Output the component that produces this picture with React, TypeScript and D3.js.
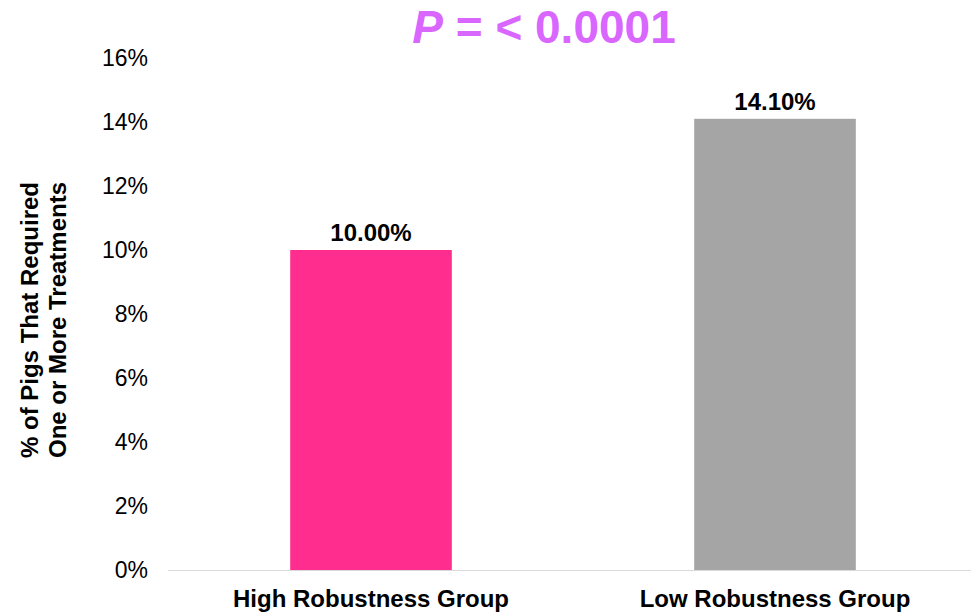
import { useEffect, useRef } from 'react'
import * as d3 from 'd3'

const groups = ['High Robustness Group', 'Low Robustness Group']
const values = [10.0, 14.1]
const barColors = ['#ff2d8d', '#a5a5a5']
const yTicks = [0, 2, 4, 6, 8, 10, 12, 14, 16]

const W = 971
const H = 613
const font = '"Liberation Sans", Arial, sans-serif'

export default function App() {
	const ref = useRef<SVGSVGElement>(null)

	useEffect(() => {
		const svg = d3.select(ref.current)
		svg.selectAll('*').remove()

		const x = d3.scaleBand().domain(groups).range([169, 977]).paddingInner(0.6).paddingOuter(0.3)
		const y = d3.scaleLinear().domain([0, 16]).range([570, 58])

		// title
		const title = svg.append('text')
			.attr('x', 544).attr('y', 43)
			.attr('text-anchor', 'middle')
			.attr('font-family', font).attr('font-weight', 'bold').attr('font-size', 46)
			.attr('fill', '#d966ff')
		title.append('tspan').attr('font-style', 'italic').text('P')
		title.append('tspan').text(' = < 0.0001')

		// y ticks (no gridlines)
		svg.append('g')
			.selectAll('text')
			.data(yTicks)
			.join('text')
			.attr('x', 148).attr('y', d => y(d))
			.attr('dy', '0.35em')
			.attr('text-anchor', 'end')
			.attr('font-family', font).attr('font-size', 23)
			.attr('fill', '#000')
			.text(d => `${d}%`)

		// bars
		svg.append('g')
			.selectAll('rect')
			.data(values)
			.join('rect')
			.attr('x', (d, i) => x(groups[i]) as number)
			.attr('width', x.bandwidth())
			.attr('y', d => y(d))
			.attr('height', d => y(0) - y(d))
			.attr('fill', (d, i) => barColors[i])

		// data labels
		svg.append('g')
			.selectAll('text')
			.data(values)
			.join('text')
			.attr('x', (d, i) => (x(groups[i]) as number) + x.bandwidth() / 2)
			.attr('y', d => y(d) - 9)
			.attr('text-anchor', 'middle')
			.attr('font-family', font).attr('font-weight', 'bold').attr('font-size', 24)
			.attr('fill', '#000')
			.text(d => `${d.toFixed(2)}%`)

		// baseline
		svg.append('line')
			.attr('x1', 168).attr('x2', W)
			.attr('y1', y(0) + 0.5).attr('y2', y(0) + 0.5)
			.attr('stroke', '#d9d9d9').attr('stroke-width', 1)

		// category labels
		svg.append('g')
			.selectAll('text')
			.data(groups)
			.join('text')
			.attr('x', d => (x(d) as number) + x.bandwidth() / 2)
			.attr('y', 607)
			.attr('text-anchor', 'middle')
			.attr('font-family', font).attr('font-weight', 'bold').attr('font-size', 24)
			.attr('fill', '#000')
			.text(d => d)

		// y axis title, two lines
		const yl = svg.append('text')
			.attr('transform', 'translate(0, 320) rotate(-90)')
			.attr('text-anchor', 'middle')
			.attr('font-family', font).attr('font-weight', 'bold').attr('font-size', 24)
			.attr('fill', '#000')
		yl.append('tspan').attr('x', 0).attr('y', 38).text('% of Pigs That Required')
		yl.append('tspan').attr('x', 0).attr('y', 66).text('One or More Treatments')
	}, [])

	return (
		<svg ref={ref} width={W} height={H} style={{ position: 'absolute', left: 0, top: 0, background: '#fff' }} />
	)
}
